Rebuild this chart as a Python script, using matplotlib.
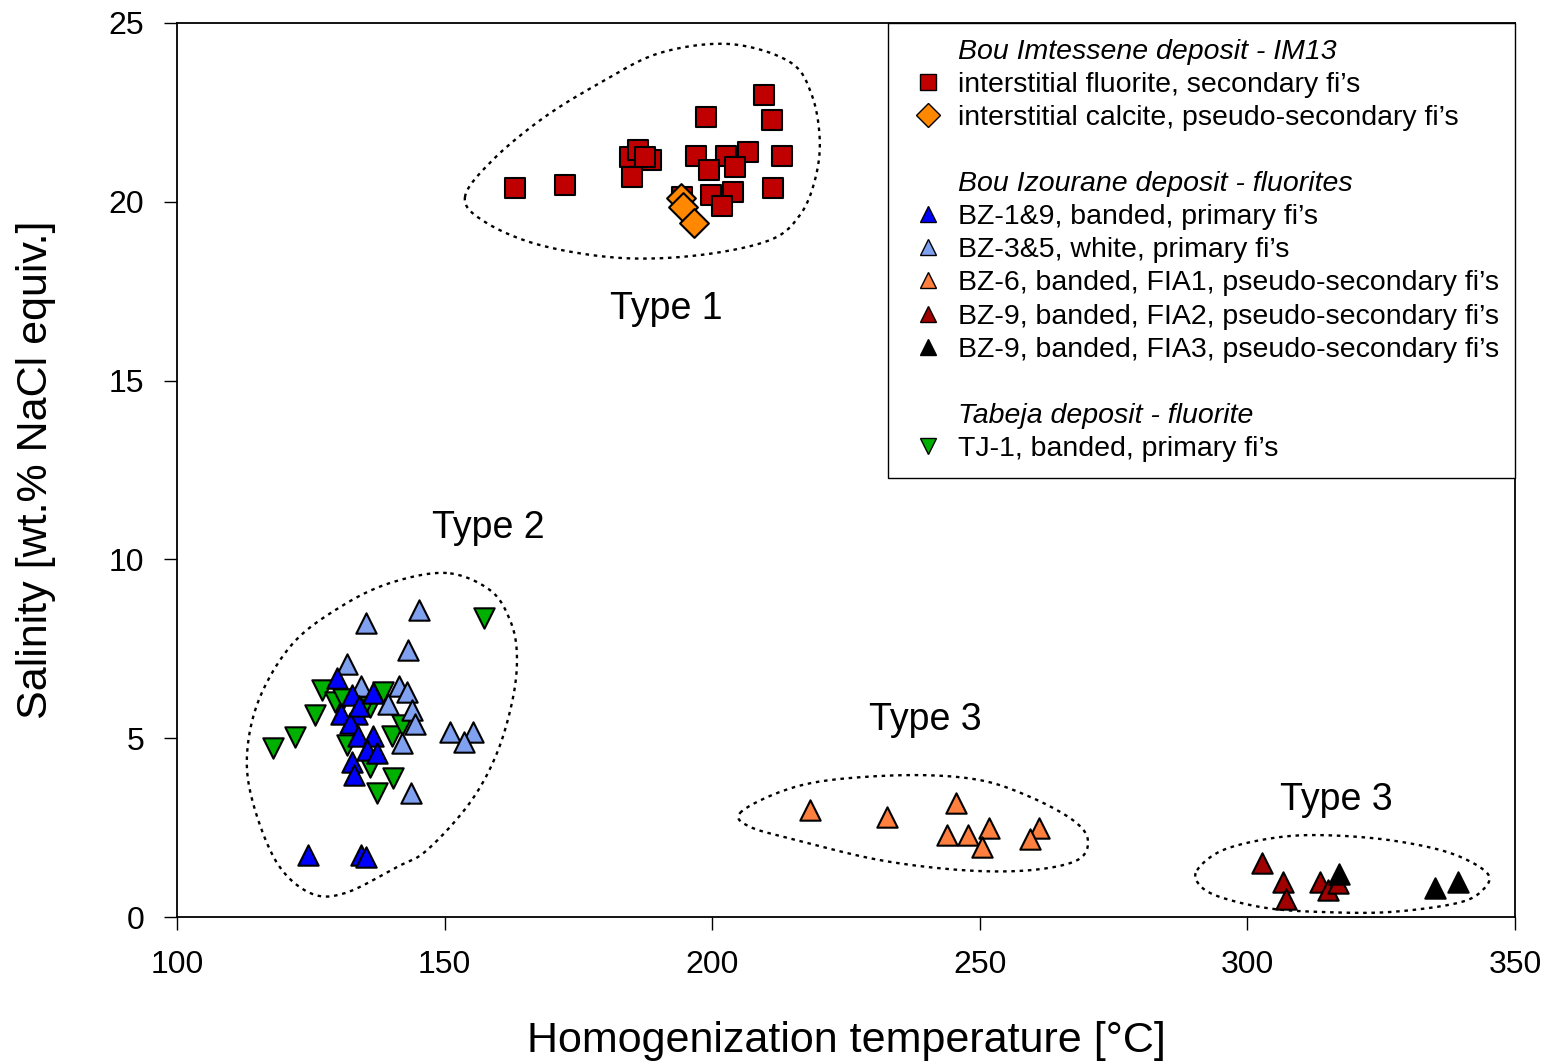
import numpy as np
import matplotlib
matplotlib.use("Agg")
import matplotlib.pyplot as plt
from matplotlib.lines import Line2D

plt.rcParams['font.family'] = ['Liberation Sans', 'DejaVu Sans']

# Bou Imtessene - IM13
im_fluorite_t = [163.2, 172.5, 184.6, 186.1, 188.6, 185.0, 187.5, 198.8, 209.7, 211.2, 197.0, 202.6,
                 206.7, 213.0, 199.4, 204.3, 211.4, 199.8, 203.9, 201.8, 194.4]
im_fluorite_s = [20.39, 20.47, 21.25, 21.45, 21.16, 20.69, 21.25, 22.37, 22.99, 22.29, 21.28, 21.28,
                 21.39, 21.28, 20.89, 20.97, 20.39, 20.19, 20.27, 19.88, 20.13]
im_calcite_t = [194.2, 194.5, 196.6]
im_calcite_s = [20.10, 19.85, 19.41]

# Bou Izourane - fluorites
bz19_t = [129.9, 132.7, 136.6, 130.6, 133.6, 132.3, 133.8, 136.6, 135.5, 137.4, 132.7, 133.1, 124.5, 134.4, 135.3, 134.0]
bz19_s = [6.68, 6.21, 6.26, 5.68, 5.68, 5.42, 5.06, 5.06, 4.67, 4.59, 4.33, 3.97, 1.73, 1.73, 1.68, 5.90]
bz35_t = [145.3, 135.3, 143.2, 131.8, 134.4, 141.5, 143.0, 139.4, 143.9, 144.5, 142.0, 151.0, 155.3, 153.6, 143.7]
bz35_s = [8.58, 8.22, 7.47, 7.07, 6.46, 6.46, 6.29, 5.96, 5.79, 5.40, 4.87, 5.17, 5.17, 4.89, 3.47]
bz6_t = [218.3, 232.7, 245.6, 243.9, 247.8, 251.7, 250.4, 261.1, 259.4]
bz6_s = [2.99, 2.80, 3.19, 2.29, 2.29, 2.49, 1.96, 2.49, 2.18]
bz9a_t = [302.7, 306.7, 307.2, 313.6, 315.1, 316.9]
bz9a_s = [1.51, 0.98, 0.50, 0.98, 0.76, 0.95]
bz9b_t = [317.1, 335.1, 339.3]
bz9b_s = [1.20, 0.81, 0.98]

# Tabeja - fluorite
tj1_t = [157.4, 127.1, 129.5, 125.8, 122.0, 117.9, 138.5, 136.1, 131.8, 140.2, 142.0, 136.1, 140.4, 137.4, 134.5, 131.0]
tj1_s = [8.36, 6.35, 6.01, 5.65, 5.03, 4.73, 6.29, 5.87, 4.81, 5.06, 5.37, 4.19, 3.89, 3.47, 5.80, 6.10]

# group outlines (data units)
type1_t = [153.8, 159.0, 168.4, 179.0, 190.2, 203.3, 214.5, 218.6, 220.1, 219.2, 216.4, 210.8, 197.7, 182.8, 167.8, 157.5]
type1_s = [20.13, 21.17, 22.34, 23.32, 24.16, 24.41, 23.91, 22.99, 21.73, 20.61, 19.63, 18.93, 18.51, 18.43, 18.79, 19.44]
type2_t = [150.4, 139.8, 130.5, 121.7, 115.5, 113.1, 114.2, 118.7, 124.9, 131.4, 141.1, 146.7, 154.7, 159.8, 162.8, 163.5, 162.2, 158.5]
type2_s = [9.62, 9.34, 8.67, 7.66, 6.15, 4.59, 3.19, 1.51, 0.67, 0.67, 1.40, 1.87, 3.19, 4.59, 6.15, 7.38, 8.31, 9.14]
type3a_t = [205.2, 212.7, 222.0, 237.5, 250.0, 259.4, 267.4, 270.2, 268.2, 259.4, 246.9, 231.4, 215.8, 207.1]
type3a_s = [2.91, 3.50, 3.83, 3.97, 3.83, 3.36, 2.71, 2.15, 1.59, 1.31, 1.31, 1.59, 2.15, 2.52]
type3b_t = [290.6, 295.4, 304.8, 314.1, 326.6, 337.9, 344.8, 344.0, 339.2, 326.6, 314.1, 303.7, 294.9, 291.1]
type3b_s = [1.31, 1.87, 2.21, 2.29, 2.15, 1.79, 1.23, 0.76, 0.39, 0.14, 0.14, 0.25, 0.56, 0.89]


def closed_curve(xs, ys, n=30):
    # closed catmull-rom spline through the points
    p = np.column_stack([xs, ys])
    N = len(p)
    t = np.linspace(0, 1, n, endpoint=False)[:, None]
    segs = []
    for i in range(N):
        p0, p1, p2, p3 = p[i - 1], p[i], p[(i + 1) % N], p[(i + 2) % N]
        segs.append(0.5 * (2 * p1 + (-p0 + p2) * t + (2 * p0 - 5 * p1 + 4 * p2 - p3) * t ** 2
                           + (-p0 + 3 * p1 - 3 * p2 + p3) * t ** 3))
    out = np.vstack(segs + [p[:1]])
    return out[:, 0], out[:, 1]


fig = plt.figure(figsize=(15.5, 10.63), dpi=100)
ax = fig.add_axes([0.1142, 0.1373, 0.8632, 0.8411])

for xs, ys in [(type1_t, type1_s), (type2_t, type2_s), (type3a_t, type3a_s), (type3b_t, type3b_s)]:
    cx, cy = closed_curve(xs, ys)
    ax.plot(cx, cy, color='black', lw=1.7, linestyle=(0, (1.5, 2.0)), zorder=1)

S = 215
ew = 1.5
ax.scatter(im_fluorite_t, im_fluorite_s, s=S, marker='s', c='#C00000', edgecolors='black', linewidths=ew, zorder=3)
ax.scatter(im_calcite_t, im_calcite_s, s=S, marker='D', c='#FF8800', edgecolors='black', linewidths=ew, zorder=4)
ax.scatter(tj1_t, tj1_s, s=S, marker='v', c='#00B000', edgecolors='black', linewidths=ew, zorder=3)
ax.scatter(bz35_t, bz35_s, s=S, marker='^', c='#80A0F0', edgecolors='black', linewidths=ew, zorder=3)
ax.scatter(bz19_t, bz19_s, s=S, marker='^', c='#0000FF', edgecolors='black', linewidths=ew, zorder=4)
ax.scatter(bz6_t, bz6_s, s=S, marker='^', c='#FF7F3F', edgecolors='black', linewidths=ew, zorder=3)
ax.scatter(bz9a_t, bz9a_s, s=S, marker='^', c='#A00000', edgecolors='black', linewidths=ew, zorder=3)
ax.scatter(bz9b_t, bz9b_s, s=S, marker='^', c='black', edgecolors='black', linewidths=ew, zorder=4)

tfs = 27
ax.text(191.5, 17.0, 'Type 1', fontsize=tfs, ha='center', va='center')
ax.text(158.1, 10.88, 'Type 2', fontsize=tfs, ha='center', va='center')
ax.text(239.8, 5.5, 'Type 3', fontsize=tfs, ha='center', va='center')
ax.text(316.7, 3.27, 'Type 3', fontsize=tfs, ha='center', va='center')

ax.set_xlim(100, 350)
ax.set_ylim(0, 25)
ax.set_xticks([100, 150, 200, 250, 300, 350])
ax.set_yticks([0, 5, 10, 15, 20, 25])
ax.tick_params(labelsize=23, direction='out', length=9.5, width=1.0, pad=14)
for sp in ax.spines.values():
    sp.set_linewidth(1.3)
ax.set_xlabel('Homogenization temperature [°C]', fontsize=31, labelpad=30)
ax.set_ylabel('Salinity [wt.% NaCl equiv.]', fontsize=31, labelpad=38)


def mk(marker, color):
    return Line2D([], [], linestyle='none', marker=marker, markersize=12, markerfacecolor=color,
                  markeredgecolor='black', markeredgewidth=1.0)


blank = Line2D([], [], linestyle='none')
handles = [blank, mk('s', '#C00000'), mk('D', '#FF8800'), blank,
           blank, mk('^', '#0000FF'), mk('^', '#80A0F0'), mk('^', '#FF7F3F'), mk('^', '#A00000'), mk('^', 'black'), blank,
           blank, mk('v', '#00B000')]
labels = ['Bou Imtessene deposit - IM13',
          'interstitial fluorite, secondary fi’s',
          'interstitial calcite, pseudo-secondary fi’s',
          ' ',
          'Bou Izourane deposit - fluorites',
          'BZ-1&9, banded, primary fi’s',
          'BZ-3&5, white, primary fi’s',
          'BZ-6, banded, FIA1, pseudo-secondary fi’s',
          'BZ-9, banded, FIA2, pseudo-secondary fi’s',
          'BZ-9, banded, FIA3, pseudo-secondary fi’s',
          ' ',
          'Tabeja deposit - fluorite',
          'TJ-1, banded, primary fi’s']
leg = ax.legend(handles, labels, loc='upper right', bbox_to_anchor=(1, 1), borderaxespad=0,
                fontsize=20.5, frameon=True, fancybox=False, edgecolor='black', framealpha=1,
                handlelength=1.7, handletextpad=0.2, labelspacing=0.25, borderpad=0.55)
leg.get_frame().set_linewidth(1.0)
for i in (0, 4, 11):
    leg.get_texts()[i].set_fontstyle('italic')

fig.savefig('out.png', dpi=100)
